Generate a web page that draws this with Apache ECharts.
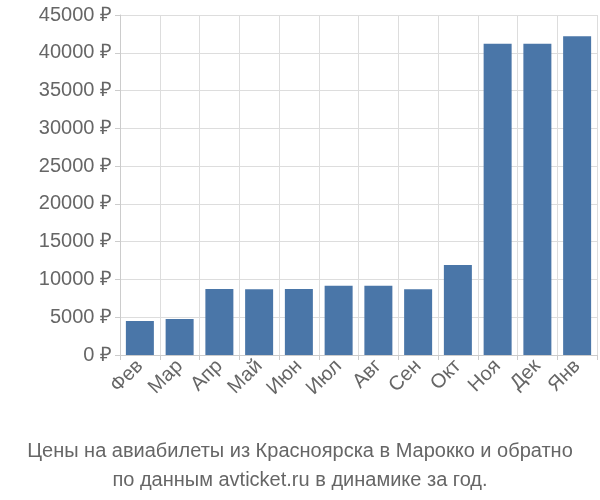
<!DOCTYPE html>
<html><head><meta charset="utf-8">
<script src="https://cdn.jsdelivr.net/npm/echarts@6/dist/echarts.min.js"></script>
<style>body{margin:0}#c{width:600px;height:500px}</style></head>
<body><div id="c"></div>
<script>
const categories = ["Фев","Мар","Апр","Май","Июн","Июл","Авг","Сен","Окт","Ноя","Дек","Янв"];
const values = [4500,4750,8750,8700,8750,9150,9150,8700,11900,41200,41200,42200];
const chart = echarts.init(document.getElementById('c'));
chart.setOption({
  animation:false,
  title:{text:"Цены на авиабилеты из Красноярска в Марокко и обратно\nпо данным avticket.ru в динамике за год.",
    left:'center', top:432, textStyle:{fontFamily:'Liberation Sans',fontSize:20,fontWeight:'normal',color:'#666',lineHeight:29}},
  grid:{left:120,right:3,top:15,bottom:145},
  xAxis:{type:'category',data:categories,
    axisLine:{lineStyle:{color:'#ccc'}},axisTick:{show:true,lineStyle:{color:'#ccc'}},
    splitLine:{show:true,lineStyle:{color:'#ddd'}},
    axisLabel:{rotate:45,fontFamily:'Liberation Sans',fontSize:20,color:'#666',margin:8}},
  yAxis:{type:'value',min:0,max:45000,interval:5000,
    axisLine:{show:true,lineStyle:{color:'#ccc'}},axisTick:{show:true,lineStyle:{color:'#ccc'}},
    splitLine:{lineStyle:{color:'#ddd'}},
    axisLabel:{formatter:v=>v+' ₽',fontFamily:'Liberation Sans',fontSize:20,color:'#666'}},
  series:[{type:'bar',data:values,barWidth:28,itemStyle:{color:'#4a76a8'}}]
});
</script></body></html>
